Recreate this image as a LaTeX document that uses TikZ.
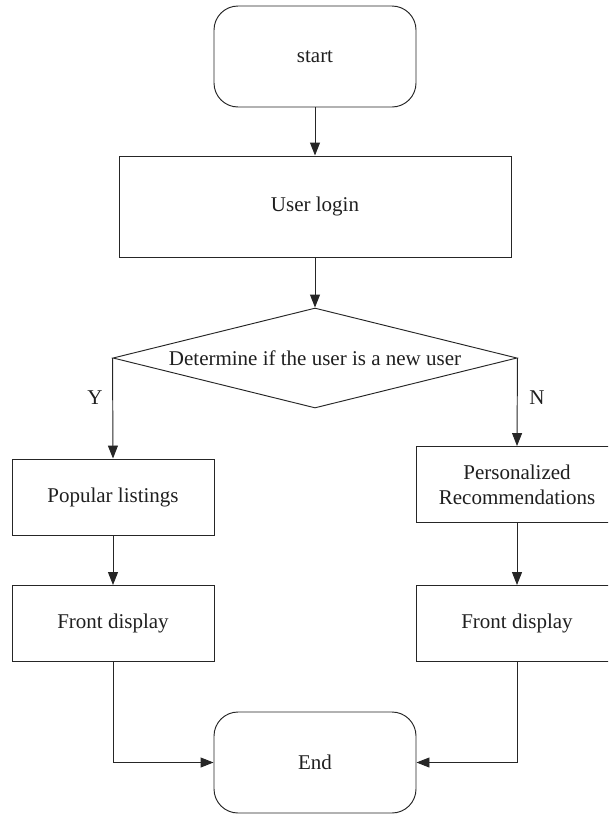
\documentclass[tikz,border=0pt]{standalone}
\usepackage{fontspec}
\setmainfont{Liberation Serif}
\usetikzlibrary{shapes.geometric,arrows.meta}

\tikzset{
  base/.style={draw=black!85, line width=0.95pt, inner sep=0pt, align=center,
    font=\fontsize{21}{25}\selectfont, text=black!88},
  terminal/.style={base, rectangle, rounded corners=24pt,
    minimum width=202pt, minimum height=101pt},
  process/.style={base, rectangle, minimum width=392pt, minimum height=101pt},
  smallbox/.style={base, rectangle, minimum width=202pt, minimum height=76pt},
  decision/.style={base, diamond, minimum width=404pt, minimum height=100pt},
  flow/.style={draw=black!85, line width=0.95pt, -{Triangle[length=13pt,width=10pt]}},
  branch/.style={font=\fontsize{21}{24}\selectfont, text=black!88}
}

\begin{document}
\begin{tikzpicture}[x=1pt, y=-1pt]
  \useasboundingbox (0,0) rectangle (608,814);
  \clip (0,0) rectangle (608,814);

  % main column
  \node[terminal] (start) at (315,56.5) {start};
  \node[process]  (login) at (315,206.5) {User login};
  \node[decision] (check) at (315,358) {};
  \node[base, draw=none] (checktext) at (check.center) {Determine if the user is a new user};

  % left branch (new user)
  \node[smallbox] (popular) at (113,497) {Popular listings};
  \node[smallbox] (frontL)  at (113,623.5) {Front display};

  % right branch (returning user)
  \node[smallbox] (personal) at (517,484.5) {Personalized\\Recommendations};
  \node[smallbox] (frontR)   at (517,623.5) {Front display};

  % end
  \node[terminal] (finish) at (315,762.5) {End};

  % connectors
  \draw[flow] (start.south) -- (login.north);
  \draw[flow] (login.south) -- (check.north);
  \draw[flow] (check.west) -- (popular.north);
  \draw[flow] (check.east) -- (personal.north);
  \draw[flow] (popular.south) -- (frontL.north);
  \draw[flow] (personal.south) -- (frontR.north);
  \draw[flow] (frontL.south) |- (finish.west);
  \draw[flow] (frontR.south) |- (finish.east);

  % branch labels
  \node[branch] (yes) at (95,398) {Y};
  \node[branch] (no)  at (537,398) {N};
\end{tikzpicture}
\end{document}
